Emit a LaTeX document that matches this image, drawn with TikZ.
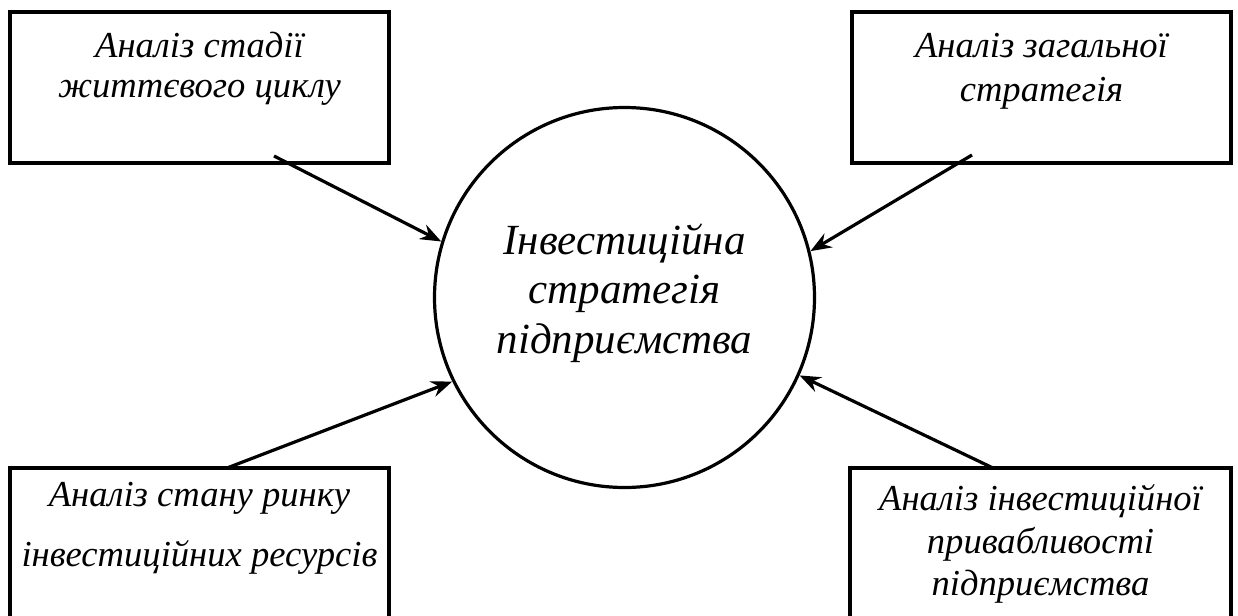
\documentclass[tikz,border=0pt]{standalone}
\usepackage{fontspec}
\setmainfont{Liberation Serif}
\usetikzlibrary{positioning}
\usetikzlibrary{arrows.meta}
\tikzset{box/.style={draw, line width=1.6pt, inner sep=0pt, minimum width=189.5pt, minimum height=75.5pt}}
\tikzset{txt/.style={font=\fontsize{18.3}{20}\selectfont\itshape, align=center, inner sep=0pt}}
\tikzset{bigtxt/.style={font=\fontsize{21.5}{24.75}\selectfont\itshape, align=center, inner sep=0pt}}
\tikzset{arr/.style={-{Stealth[length=10.5pt,width=8pt,inset=3.5pt]}, line width=1.6pt}}

\begin{document}
\begin{tikzpicture}[x=0.5pt,y=-0.5pt]
\useasboundingbox (0,0) rectangle (1238,616);
\node[box] (stage) at (199.5,87.5) {};
\node[box] (general) at (1041.5,87.5) {};
\node[box, minimum height=81pt] (market) at (199.5,549) {};
\node[box, minimum width=190.5pt, minimum height=81pt] (attract) at (1040.5,549) {};
\node[circle, draw, line width=1.6pt, minimum size=190pt, inner sep=0pt] (strategy) at (624.5,297.5) {};
\node[txt, below=10.5pt of stage.north] (stagetxt) {Аналіз стадії\\життєвого циклу};
\node[txt, below=11pt of general.north, font=\fontsize{18.3}{22}\selectfont\itshape] (generaltxt) {Аналіз загальної\\стратегія};
\node[txt, below=7.5pt of market.north, font=\fontsize{18.3}{30}\selectfont\itshape] (markettxt) {Аналіз стану ринку\\інвестиційних ресурсів};
\node[txt, below=9pt of attract.north, font=\fontsize{18.3}{21.25}\selectfont\itshape] (attracttxt) {Аналіз інвестиційної\\привабливості\\підприємства};
\node[bigtxt] (strategytxt) at (624.5,293) {Інвестиційна\\стратегія\\підприємства};
% arrows into the circle
\coordinate (stagefoot) at (274,156);
\coordinate (generalfoot) at (972,155);
\coordinate (markettop) at (227,468);
\coordinate (attracttop) at (993,468);
\draw[arr] (stagefoot) -- (strategy.163.5);
\draw[arr] (generalfoot) -- (strategy.14.5);
\draw[arr] (markettop) -- (strategy.206);
\draw[arr] (attracttop) -- (strategy.336);
\end{tikzpicture}
\end{document}
